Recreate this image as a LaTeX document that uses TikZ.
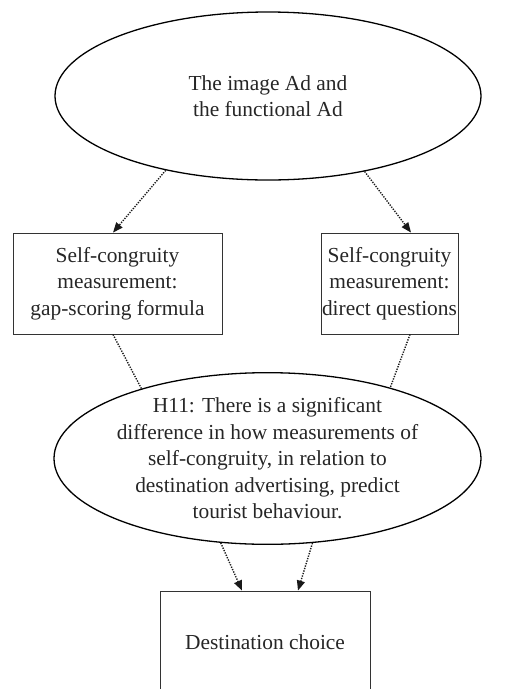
\documentclass[tikz,border=0pt]{standalone}
\usepackage{fontspec}
\setmainfont{Liberation Serif}
\usetikzlibrary{shapes.geometric,arrows.meta,calc}

\tikzset{
  txt/.style={font=\fontsize{21.4pt}{26.5pt}\selectfont, align=center, text=black!85},
  oval/.style={ellipse, draw=black, line width=1.3pt, inner sep=0pt, txt},
  boxnode/.style={rectangle, draw=black!80, line width=0.9pt, inner sep=0pt, txt},
  dotlink/.style={dash pattern=on 1.3pt off 1.3pt, line width=1.4pt, draw=black!90},
  dotarrow/.style={dotlink, -{Triangle[length=10pt,width=8pt,sep=0pt]}},
}

\begin{document}
\begin{tikzpicture}[x=1pt,y=1pt]
  \useasboundingbox (0,0) rectangle (523,-689);
  \clip (0,0) rectangle (523,-689);

  % advertising types
  \node[oval, minimum width=426pt, minimum height=168pt] (ads) at (268,-96)
    {The image Ad and\\the functional Ad};

  % the two measurement approaches
  \node[boxnode, minimum width=209pt, minimum height=101pt] (gap) at (117.5,-283.5)
    {Self-congruity\\measurement:\\gap-scoring formula};
  \node[boxnode, minimum width=137pt, minimum height=101pt] (direct) at (389.5,-283.5)
    {Self-congruity\\measurement:\\direct questions};

  % hypothesis
  \node[oval, minimum width=427pt, minimum height=169pt] (hyp) at (267.5,-458.5)
    {H11: There is a significant\\difference in how measurements of\\self-congruity, in relation to\\destination advertising, predict\\tourist behaviour.};

  % outcome (box runs past the lower edge)
  \node[boxnode, minimum width=210pt, minimum height=102pt] (dest) at (265,-642)
    {Destination choice};

  % connectors
  \draw[dotarrow] (ads.216) -- ($(gap.north)+(-4.5,0)$);
  \draw[dotarrow] (ads.322) -- ($(direct.north)+(21.5,0)$);
  \draw[dotlink] ($(gap.south)+(-4.5,0)$) -- (hyp.151);
  \draw[dotlink] ($(direct.south)+(20.5,0)$) -- (hyp.30.5);
  \draw[dotarrow] (hyp.241.2) -- ($(dest.north)+(-23,0)$);
  \draw[dotarrow] (hyp.298.8) -- ($(dest.north)+(33,0)$);
\end{tikzpicture}
\end{document}
